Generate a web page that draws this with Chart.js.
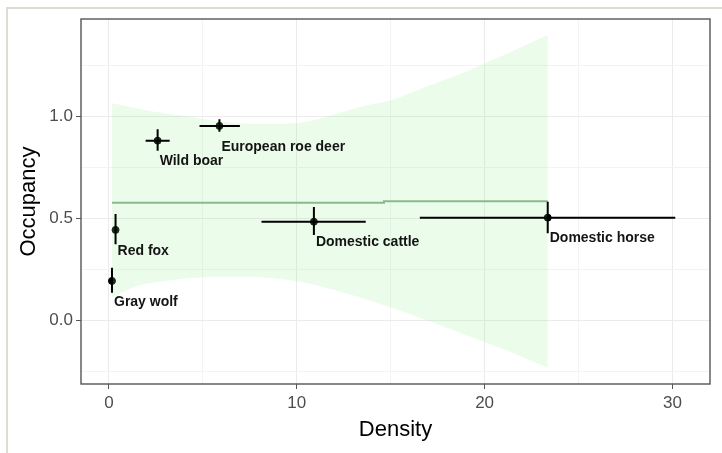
<!DOCTYPE html>
<html>
<head>
<meta charset="utf-8">
<script src="https://cdn.jsdelivr.net/npm/chart.js@4"></script>
<style>
  html, body { margin: 0; padding: 0; background: #fff; }
  .wrap { position: relative; width: 722px; height: 453px; overflow: hidden; }
  .wrap canvas { position: absolute; left: 0; top: 0; }
  .frame {
    position: absolute; left: 6px; top: 7px; right: 0; bottom: 0;
    border-left: 2px solid #deddd4; border-top: 2px solid #deddd4;
    pointer-events: none;
  }
</style>
</head>
<body>
<div class="wrap">
  <canvas id="chart" width="722" height="453"></canvas>
  <div class="frame"></div>
</div>
<script>
// species estimates (density +/- CI, occupancy +/- CI)
const species = ['Gray wolf', 'Red fox', 'Wild boar', 'European roe deer', 'Domestic cattle', 'Domestic horse'];
const density = [0.16, 0.35, 2.59, 5.88, 10.91, 23.36];
const densityLow = [0.12, 0.29, 1.95, 4.82, 8.12, 16.55];
const densityHigh = [0.20, 0.41, 3.23, 6.97, 13.67, 30.15];
const occupancy = [0.195, 0.445, 0.882, 0.954, 0.485, 0.505];
const occupancyLow = [0.137, 0.375, 0.832, 0.926, 0.420, 0.428];
const occupancyHigh = [0.260, 0.523, 0.938, 0.987, 0.557, 0.583];

// fitted line and its confidence ribbon
const fitX = [0.16, 14.64, 14.64, 23.36];
const fitY = [0.578, 0.578, 0.585, 0.585];
const bandX = [0.16, 1.5, 3, 4.5, 6, 7.5, 9, 10.5, 12, 13.5, 15, 17, 19, 21, 23.36];
const bandUpper = [1.065, 1.04, 1.015, 0.995, 0.975, 0.965, 0.965, 0.975, 1.01, 1.05, 1.08, 1.15, 1.22, 1.30, 1.40];
const bandLower = [0.115, 0.17, 0.195, 0.21, 0.215, 0.215, 0.205, 0.185, 0.15, 0.11, 0.065, 0.0, -0.07, -0.14, -0.23];

// axis ticks
const xTickLabels = [0, 10, 20, 30];
const yTickLabels = [0, 0.5, 1];

const pts = (xs, ys) => xs.map((x, i) => ({ x: x, y: ys[i] }));
const isMajor = (list, v) => list.some(t => Math.abs(t - v) < 1e-6);

const panelBorder = {
  id: 'panelBorder',
  afterDraw(chart) {
    const { ctx, chartArea: a } = chart;
    ctx.save();
    ctx.strokeStyle = '#555';
    ctx.lineWidth = 1.4;
    ctx.strokeRect(a.left, a.top, a.right - a.left, a.bottom - a.top);
    ctx.restore();
  }
};

const errorBars = {
  id: 'errorBars',
  afterDatasetsDraw(chart) {
    const { ctx, scales: { x, y } } = chart;
    ctx.save();
    ctx.strokeStyle = '#000';
    ctx.lineWidth = 2;
    species.forEach((s, i) => {
      const px = x.getPixelForValue(density[i]);
      const py = y.getPixelForValue(occupancy[i]);
      ctx.beginPath();
      ctx.moveTo(x.getPixelForValue(densityLow[i]), py);
      ctx.lineTo(x.getPixelForValue(densityHigh[i]), py);
      ctx.moveTo(px, y.getPixelForValue(occupancyLow[i]));
      ctx.lineTo(px, y.getPixelForValue(occupancyHigh[i]));
      ctx.stroke();
    });
    // species labels
    ctx.fillStyle = '#141414';
    ctx.font = 'bold 14px "Liberation Sans", Arial, sans-serif';
    ctx.textAlign = 'left';
    ctx.textBaseline = 'middle';
    species.forEach((s, i) => {
      ctx.fillText(s, x.getPixelForValue(density[i]) + 2, y.getPixelForValue(occupancy[i] - 0.102));
    });
    ctx.restore();
  }
};

new Chart(document.getElementById('chart'), {
  type: 'scatter',
  data: {
    datasets: [
      {
        type: 'line',
        data: pts(bandX, bandUpper),
        borderWidth: 0,
        pointRadius: 0,
        tension: 0.4,
        cubicInterpolationMode: 'monotone',
        backgroundColor: 'rgba(144, 238, 144, 0.18)',
        fill: '+1'
      },
      {
        type: 'line',
        data: pts(bandX, bandLower),
        borderWidth: 0,
        pointRadius: 0,
        tension: 0.4,
        cubicInterpolationMode: 'monotone',
        fill: false
      },
      {
        type: 'line',
        data: pts(fitX, fitY),
        borderColor: '#8aae8a',
        borderWidth: 2,
        pointRadius: 0,
        tension: 0,
        fill: false
      },
      {
        data: pts(density, occupancy),
        backgroundColor: '#000',
        borderColor: '#000',
        pointRadius: 3.5,
        pointHoverRadius: 3.5
      }
    ]
  },
  options: {
    responsive: false,
    animation: false,
    events: [],
    layout: { padding: { top: 19, right: 12, bottom: 0, left: 0 } },
    plugins: { legend: { display: false }, tooltip: { enabled: false } },
    scales: {
      x: {
        type: 'linear',
        min: -1.49,
        max: 32.0,
        afterFit(scale) { scale.height = 69; },
        border: { display: false },
        grid: {
          color: ctx => isMajor(xTickLabels, ctx.tick.value) ? '#ebebeb' : '#f3f3f3',
          lineWidth: 1,
          tickLength: 5,
          tickColor: ctx => isMajor(xTickLabels, ctx.tick.value) ? '#555' : 'rgba(0,0,0,0)'
        },
        ticks: {
          stepSize: 5,
          includeBounds: false,
          autoSkip: false,
          maxRotation: 0,
          padding: 4,
          color: '#4d4d4d',
          font: { family: '"Liberation Sans", Arial, sans-serif', size: 17 },
          callback: v => isMajor(xTickLabels, v) ? String(Math.round(v)) : ''
        },
        title: {
          display: true,
          text: 'Density',
          color: '#000',
          font: { family: '"Liberation Sans", Arial, sans-serif', size: 22 },
          padding: { top: 0, bottom: 10 }
        }
      },
      y: {
        type: 'linear',
        min: -0.31,
        max: 1.478,
        afterFit(scale) { scale.width = 81; },
        border: { display: false },
        grid: {
          color: ctx => isMajor(yTickLabels, ctx.tick.value) ? '#ebebeb' : '#f3f3f3',
          lineWidth: 1,
          tickLength: 5,
          tickColor: ctx => isMajor(yTickLabels, ctx.tick.value) ? '#555' : 'rgba(0,0,0,0)'
        },
        ticks: {
          stepSize: 0.25,
          includeBounds: false,
          autoSkip: false,
          padding: 3,
          color: '#4d4d4d',
          font: { family: '"Liberation Sans", Arial, sans-serif', size: 17 },
          callback: v => isMajor(yTickLabels, v) ? v.toFixed(1) : ''
        },
        title: {
          display: true,
          text: 'Occupancy',
          color: '#000',
          font: { family: '"Liberation Sans", Arial, sans-serif', size: 22 },
          padding: { top: 16, bottom: 0 }
        }
      }
    }
  },
  plugins: [panelBorder, errorBars]
});
</script>
</body>
</html>
